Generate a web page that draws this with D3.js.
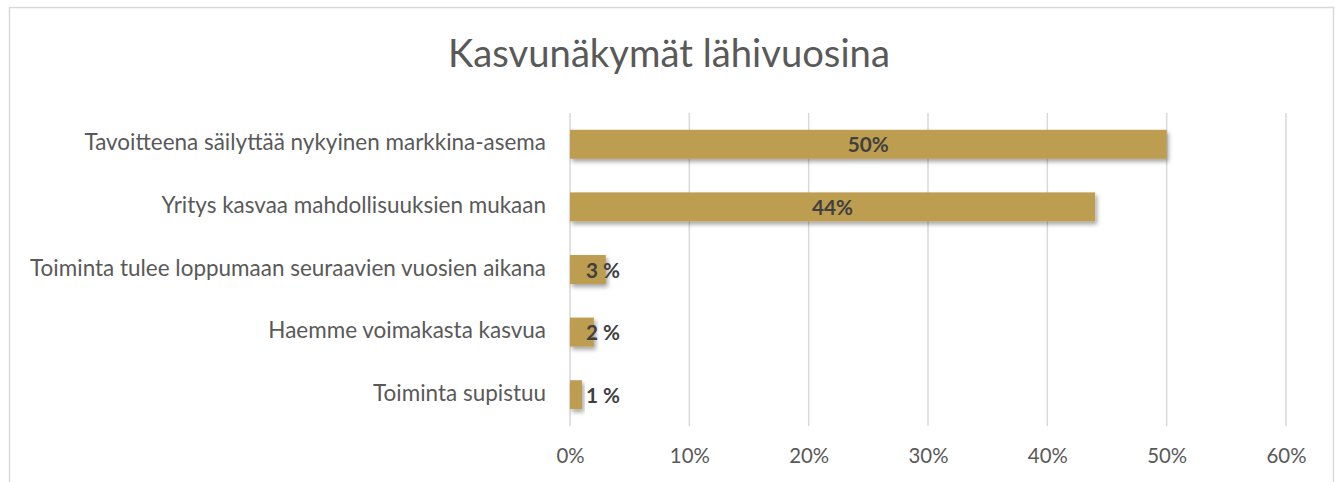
<!DOCTYPE html>
<html><head><meta charset="utf-8">
<script src="https://cdn.jsdelivr.net/npm/d3@7"></script>
<style>html,body{margin:0;padding:0;background:#fff;overflow:hidden}</style>
</head><body>
<svg id="c" width="1335" height="482"></svg>
<script>
const title = "Kasvunäkymät lähivuosina";
const categories = [
  "Tavoitteena säilyttää nykyinen markkina-asema",
  "Yritys kasvaa mahdollisuuksien mukaan",
  "Toiminta tulee loppumaan seuraavien vuosien aikana",
  "Haemme voimakasta kasvua",
  "Toiminta supistuu"
];
const values = [0.50, 0.44, 0.03, 0.02, 0.01];
const valueLabels = ["50%", "44%", "3 %", "2 %", "1 %"];
const tickValues = [0, 0.1, 0.2, 0.3, 0.4, 0.5, 0.6];

const FONT = "Lato, 'Open Sans', sans-serif";
const svg = d3.select("#c");

function fitGroup(sel, probe, target) {
  probe.attr("font-size", 100);
  const w = probe.node().getComputedTextLength();
  sel.attr("font-size", 100 * target / w);
}

const defs = svg.append("defs");
const f = defs.append("filter").attr("id", "sh").attr("x", "-10%").attr("y", "-30%").attr("width", "130%").attr("height", "180%");
f.append("feDropShadow").attr("dx", 2).attr("dy", 3).attr("stdDeviation", 2).attr("flood-color", "#000").attr("flood-opacity", 0.35);

svg.append("rect").attr("x", 9.5).attr("y", 7.5).attr("width", 1324).attr("height", 520)
  .attr("fill", "#fff").attr("stroke", "#D9D9D9").attr("stroke-width", 1.5);

const x = d3.scaleLinear().domain([0, 0.6]).range([570, 1286]);
const y = d3.scaleBand().domain(categories).range([113, 426]).paddingInner(0.537).paddingOuter(0.2685);

// gridlines
svg.append("g").selectAll("line").data(tickValues).join("line")
  .attr("x1", d => x(d)).attr("x2", d => x(d))
  .attr("y1", 113).attr("y2", 426)
  .attr("stroke", "#D9D9D9").attr("stroke-width", 1.5);

// tick labels via axis
const ax = svg.append("g").attr("transform", "translate(0,426)")
  .call(d3.axisBottom(x).tickValues(tickValues).tickFormat(d3.format(".0%")).tickSize(0).tickPadding(0));
ax.select(".domain").remove();
ax.attr("font-size", null).attr("font-family", null);
ax.selectAll("text").attr("fill", "#595959").attr("font-family", FONT).attr("dy", null).attr("y", 37);
fitGroup(ax.selectAll("text"), ax.selectAll("text").filter(d => d === 0.5), 40);

// bars
svg.append("g").selectAll("rect").data(values).join("rect")
  .attr("x", x(0)).attr("y", (d, i) => y(categories[i]))
  .attr("width", d => x(d) - x(0)).attr("height", y.bandwidth())
  .attr("fill", "#BD9D50").attr("filter", "url(#sh)");

// category labels
const cl = svg.append("g").selectAll("text").data(categories).join("text")
  .attr("x", 546).attr("y", d => y(d) + y.bandwidth() / 2 + 6)
  .attr("text-anchor", "end").attr("fill", "#595959").attr("font-family", FONT)
  .text(d => d);
fitGroup(cl, cl.filter((d, i) => i === 2), 516);

// value labels
const vl = svg.append("g").selectAll("text").data(values).join("text")
  .attr("x", d => d > 0.1 ? (x(0) + x(d)) / 2 : x(0) + 16)
  .attr("y", (d, i) => y(categories[i]) + y.bandwidth() / 2 + 8)
  .attr("text-anchor", d => d > 0.1 ? "middle" : "start")
  .attr("fill", "#404040").attr("font-family", FONT).attr("font-weight", "bold")
  .text((d, i) => valueLabels[i]);
fitGroup(vl, vl.filter((d, i) => i === 0), 41);

// title
const tt = svg.append("text").attr("x", 669).attr("y", 67).attr("text-anchor", "middle")
  .attr("fill", "#595959").attr("font-family", FONT).text(title);
fitGroup(tt, tt, 442);
</script>
</body></html>
